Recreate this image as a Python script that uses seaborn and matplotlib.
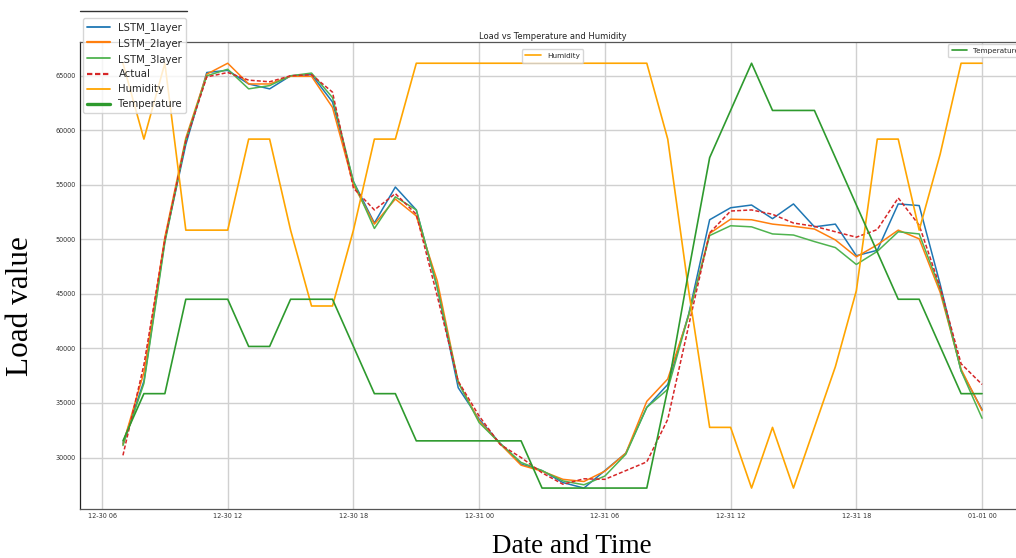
import numpy as np
import pandas as pd
import matplotlib
matplotlib.use("Agg")
import matplotlib.pyplot as plt
import matplotlib.dates as mdates
from matplotlib.ticker import MultipleLocator, NullFormatter
from matplotlib.lines import Line2D
import seaborn as sns

# ---------------- data (hourly, 2023-12-30 07:00 -> 2024-01-01 00:00) ----------------
start_time = "2023-12-30 07:00"
n_hours = 42

actual = [30200, 38500, 50000, 59000, 64900, 65300, 64600, 64450, 65000, 65100,
          63500, 54700, 52700, 54200, 52300, 44800, 37000, 33800, 31200, 30000,
          28600, 27550, 28050, 28000, 28800, 29600, 33500, 42100, 50600, 52600,
          52700, 52300, 51500, 51200, 50700, 50200, 50900, 53800, 51300, 45600,
          38600, 36700]
lstm_1layer = [31300, 37000, 49900, 58700, 65300, 65500, 64250, 63800, 65000, 65100,
               62600, 55300, 51500, 54800, 52700, 45600, 36400, 33500, 31300, 29400,
               28800, 27700, 27200, 28800, 30400, 34600, 36700, 43150, 51800, 52900,
               53150, 51900, 53250, 51150, 51400, 48500, 49000, 53250, 53100, 45900,
               37950, 34400]
lstm_2layer = [31200, 37800, 50200, 59300, 65150, 66150, 64250, 64250, 64950, 64950,
               62100, 55000, 51400, 53700, 52150, 46200, 36900, 33350, 31250, 29300,
               28750, 28000, 27800, 28750, 30400, 35150, 37200, 43000, 50550, 51850,
               51800, 51400, 51200, 50950, 49950, 48400, 49500, 50850, 50050, 45150,
               38100, 34300]
lstm_3layer = [31100, 36800, 49700, 59100, 65000, 65600, 63800, 64100, 65000, 65250,
               63000, 55300, 51000, 53900, 52700, 45600, 36900, 33200, 31300, 29550,
               28800, 27850, 27500, 28300, 30300, 34600, 36250, 43100, 50350, 51250,
               51150, 50500, 50400, 49800, 49250, 47700, 48900, 50700, 50500, 45450,
               37950, 33600]
humidity = [100, 95, 100, 89, 89, 89, 95, 95, 89, 84,
            84, 89, 95, 95, 100, 100, 100, 100, 100, 100,
            100, 100, 100, 100, 100, 100, 95, 85, 76, 76,
            72, 76, 72, 76, 80, 85, 95, 95, 89, 94,
            100, 100]
temperature = [3, 4, 4, 6, 6, 6, 5, 5, 6, 6,
               6, 5, 4, 4, 3, 3, 3, 3, 3, 3,
               2, 2, 2, 2, 2, 2, 4.1, 6.6, 9, 10,
               11, 10, 10, 10, 9, 8, 7, 6, 6, 5,
               4, 4]

y_ticks_step = 5000
title_text = "Load vs Temperature and Humidity"

times = pd.date_range(start_time, periods=n_hours, freq="h")
df = pd.DataFrame({"time": times, "LSTM_1layer": lstm_1layer, "LSTM_2layer": lstm_2layer,
                   "LSTM_3layer": lstm_3layer, "Actual": actual,
                   "Humidity": humidity, "Temperature": temperature})

# ---------------- style ----------------
sns.set_style("whitegrid")
plt.rcParams["font.family"] = ["DejaVu Sans"]

W, H = 1016, 558
fig = plt.figure(figsize=(W / 100, H / 100), dpi=100)
ax = fig.add_axes([80 / W, 48.7 / H, 945 / W, 467.3 / H])

c_blue = "#1f77b4"
c_orange = "#ff7f0e"
c_green3 = "#4fb34f"
c_red = "#d62728"
c_hum = "#ffa500"
c_temp = "#2e9a2e"

lw = 1.1
sns.lineplot(data=df, x="time", y="LSTM_1layer", ax=ax, color=c_blue, lw=lw)
sns.lineplot(data=df, x="time", y="LSTM_2layer", ax=ax, color=c_orange, lw=lw)
sns.lineplot(data=df, x="time", y="LSTM_3layer", ax=ax, color=c_green3, lw=lw)
sns.lineplot(data=df, x="time", y="Actual", ax=ax, color=c_red, lw=lw,
             linestyle=(0, (2.6, 1.4)))

ax.yaxis.set_major_locator(MultipleLocator(y_ticks_step))
ax.xaxis.set_major_locator(mdates.HourLocator(byhour=[0, 6, 12, 18]))
ax.xaxis.set_major_formatter(mdates.DateFormatter("%m-%d %H"))
ax.set_xlabel("")
ax.set_ylabel("")
ax.grid(True, color="#d0d0d0", lw=1.0)
ax.tick_params(axis="both", labelsize=4.7, length=0, colors="#333333")
ax.tick_params(axis="y", pad=3)
ax.tick_params(axis="x", pad=2.5)
for side, sp in ax.spines.items():
    sp.set_color("#555555")
    sp.set_linewidth(0.9)
ax.spines["left"].set_color("#222222")
ax.set_title(title_text, fontsize=6, pad=2.5, color="#222222")

# humidity twin axis
axh = ax.twinx()
sns.lineplot(data=df, x="time", y="Humidity", ax=axh, color=c_hum, lw=1.2, label="Humidity")
axh.set_ylabel("")
axh.grid(False)
axh.yaxis.set_major_formatter(NullFormatter())
axh.tick_params(length=0)
axh.legend(loc="upper center", fontsize=5.2, frameon=True, handlelength=2.2,
           borderpad=0.5, borderaxespad=1.0)

# temperature twin axis
axt = ax.twinx()
sns.lineplot(data=df, x="time", y="Temperature", ax=axt, color=c_temp, lw=1.2, label="Temperature")
axt.set_ylabel("")
axt.grid(False)
axt.yaxis.set_major_formatter(NullFormatter())
axt.tick_params(length=0)
axt.legend(loc="upper right", fontsize=5.2, frameon=True, handlelength=2.2,
           borderpad=0.5, borderaxespad=0.3)
for a in (axh, axt):
    for sp in a.spines.values():
        sp.set_visible(False)

# main (pasted-style) legend in the upper-left corner
handles = [
    Line2D([], [], color=c_blue, lw=1.3, label="LSTM_1layer"),
    Line2D([], [], color=c_orange, lw=1.6, label="LSTM_2layer"),
    Line2D([], [], color=c_green3, lw=1.3, label="LSTM_3layer"),
    Line2D([], [], color=c_red, lw=1.6, linestyle=(0, (2.4, 1.2)), label="Actual"),
    Line2D([], [], color=c_hum, lw=1.3, label="Humidity"),
    Line2D([], [], color=c_temp, lw=2.4, label="Temperature"),
]
fig.legend(handles=handles, loc="upper left", bbox_to_anchor=(83 / W, 1 - 18 / H),
           borderaxespad=0, fontsize=7.3, handlelength=2.3, labelspacing=0.48,
           borderpad=0.4, handletextpad=0.8, frameon=True)

# stray top border of the pasted legend image
fig.add_artist(Line2D([80 / W, 187 / W], [1 - 11 / H, 1 - 11 / H], color="#333333", lw=1.0))

# axis labels in serif
fig.text(21 / W, 1 - 306.5 / H, "Load value", rotation=90, ha="center", va="center",
         fontsize=22.5, family=["Liberation Serif", "DejaVu Serif"], color="black")
fig.text(571.5 / W, 1 - 553 / H, "Date and Time", ha="center", va="baseline",
         fontsize=19.5, family=["Liberation Serif", "DejaVu Serif"], color="black")

fig.savefig("out.png", dpi=100)
